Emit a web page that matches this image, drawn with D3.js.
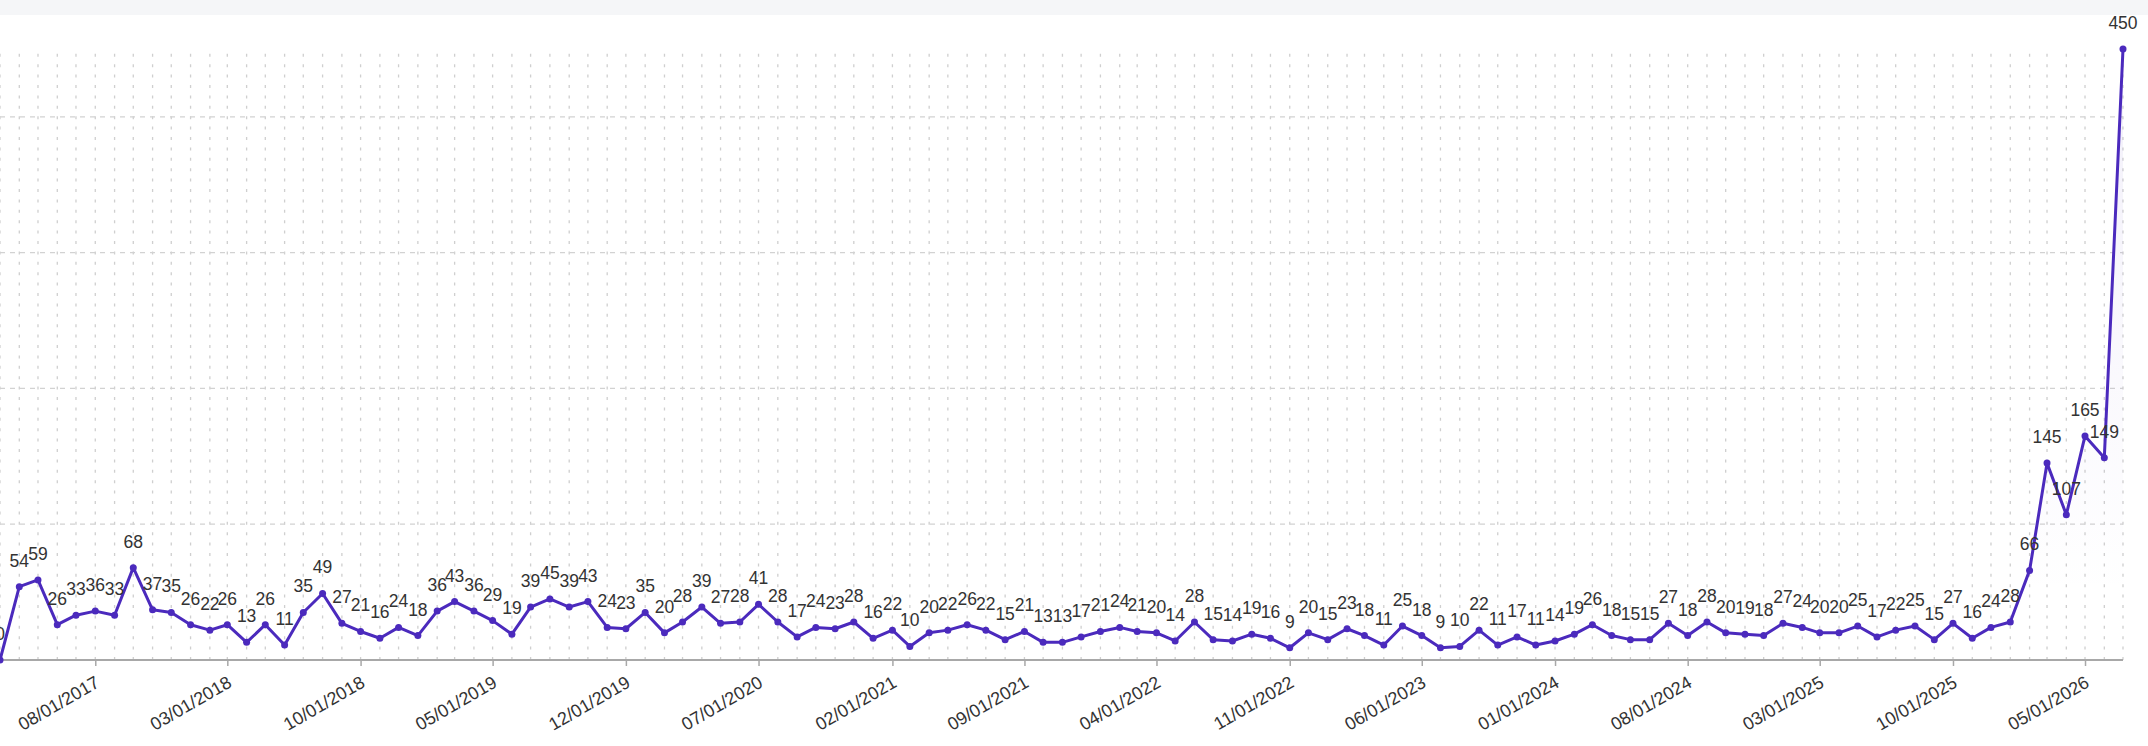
<!DOCTYPE html>
<html>
<head>
<meta charset="utf-8">
<script src="https://cdn.jsdelivr.net/npm/d3@7"></script>
<style>
  html, body { margin: 0; padding: 0; background: #fff; }
  svg { display: block; font-family: "Liberation Sans", Arial, Helvetica, sans-serif; }
</style>
</head>
<body>
<script>
// monthly counts, 03/2017 -> 07/2026
const startMonth = new Date(2017, 2, 1)
const endMonth = new Date(2026, 7, 1)
const counts = [
  0, 54, 59, 26, 33, 36, 33, 68, 37, 35, 26, 22, 26, 13, 26, 11, 35, 49, 27, 21,
  16, 24, 18, 36, 43, 36, 29, 19, 39, 45, 39, 43, 24, 23, 35, 20, 28, 39, 27, 28,
  41, 28, 17, 24, 23, 28, 16, 22, 10, 20, 22, 26, 22, 15, 21, 13, 13, 17, 21, 24,
  21, 20, 14, 28, 15, 14, 19, 16, 9, 20, 15, 23, 18, 11, 25, 18, 9, 10, 22, 11,
  17, 11, 14, 19, 26, 18, 15, 15, 27, 18, 28, 20, 19, 18, 27, 24, 20, 20, 25, 17,
  22, 25, 15, 27, 16, 24, 28, 66, 145, 107, 165, 149, 450
]
const tickLabels = [
  "08/01/2017", "03/01/2018", "10/01/2018", "05/01/2019", "12/01/2019", "07/01/2020",
  "02/01/2021", "09/01/2021", "04/01/2022", "11/01/2022", "06/01/2023", "01/01/2024",
  "08/01/2024", "03/01/2025", "10/01/2025", "05/01/2026"
]
const gridValues = [100, 200, 300, 400]

const WIDTH = 2148
const HEIGHT = 746
const LINE = "#4b2abd"

const fmt = d3.timeFormat("%m/%d/%Y")
const parse = d3.timeParse("%m/%d/%Y")
const months = d3.timeMonth.range(startMonth, endMonth)
const data = months.map((m, i) => ({ date: m, value: counts[i] }))

const svg = d3.select("body").append("svg")
  .attr("width", WIDTH).attr("height", HEIGHT)

// pale strip on top
svg.append("rect").attr("x", 0).attr("y", 0).attr("width", WIDTH).attr("height", 15)
  .attr("fill", "#f5f6f8")

const x = d3.scaleTime().domain([months[0], months[months.length - 1]]).range([0, 2123])
const y = d3.scaleLinear().domain([0, 450]).range([660, 49])

// vertical dotted grid, one per month
svg.append("g").selectAll("line")
  .data(months).enter().append("line")
  .attr("x1", d => x(d)).attr("x2", d => x(d))
  .attr("y1", y(0)).attr("y2", y(450))
  .attr("stroke", "#cfcfcf").attr("stroke-width", 1.3)
  .attr("stroke-dasharray", "3,7.4")

// horizontal dashed grid
svg.append("g").selectAll("line")
  .data(gridValues).enter().append("line")
  .attr("x1", 0).attr("x2", 2123)
  .attr("y1", d => y(d)).attr("y2", d => y(d))
  .attr("stroke", "#d2d2d2").attr("stroke-width", 1.2)
  .attr("stroke-dasharray", "5,5")

// area with faint gradient
const grad = svg.append("defs").append("linearGradient")
  .attr("id", "fade").attr("x1", 0).attr("x2", 0).attr("y1", 0).attr("y2", 1)
grad.append("stop").attr("offset", "0%").attr("stop-color", LINE).attr("stop-opacity", 0.07)
grad.append("stop").attr("offset", "90%").attr("stop-color", LINE).attr("stop-opacity", 0)

svg.append("path").datum(data)
  .attr("fill", "url(#fade)")
  .attr("d", d3.area().x(d => x(d.date)).y0(y(0)).y1(d => y(d.value)))

// x axis
const xAxis = d3.axisBottom(x)
  .tickValues(tickLabels.map(parse))
  .tickSize(6)
  .tickFormat(fmt)

const gx = svg.append("g").attr("transform", `translate(0,${y(0)})`).call(xAxis)
gx.select(".domain").attr("stroke", "#a8a8a8").attr("stroke-width", 2)
  .attr("d", `M0,0H2123`)
gx.selectAll(".tick line").attr("stroke", "#a8a8a8").attr("stroke-width", 1.5)
gx.selectAll(".tick text")
  .attr("fill", "#333")
  .attr("font-size", 18)
  .attr("text-anchor", "end")
  .attr("dy", null)
  .attr("y", null)
  .attr("transform", "translate(5,26) rotate(-30)")

// line
svg.append("path").datum(data)
  .attr("fill", "none")
  .attr("stroke", LINE)
  .attr("stroke-width", 3)
  .attr("stroke-linejoin", "round")
  .attr("d", d3.line().x(d => x(d.date)).y(d => y(d.value)))

svg.append("g").selectAll("circle")
  .data(data).enter().append("circle")
  .attr("cx", d => x(d.date)).attr("cy", d => y(d.value))
  .attr("r", 3.5).attr("fill", LINE)

// value labels
svg.append("g").selectAll("text")
  .data(data).enter().append("text")
  .attr("x", d => x(d.date)).attr("y", d => y(d.value) - 20)
  .attr("text-anchor", "middle")
  .attr("font-size", 17.5)
  .attr("fill", "#333")
  .text(d => d.value)
</script>
</body>
</html>
